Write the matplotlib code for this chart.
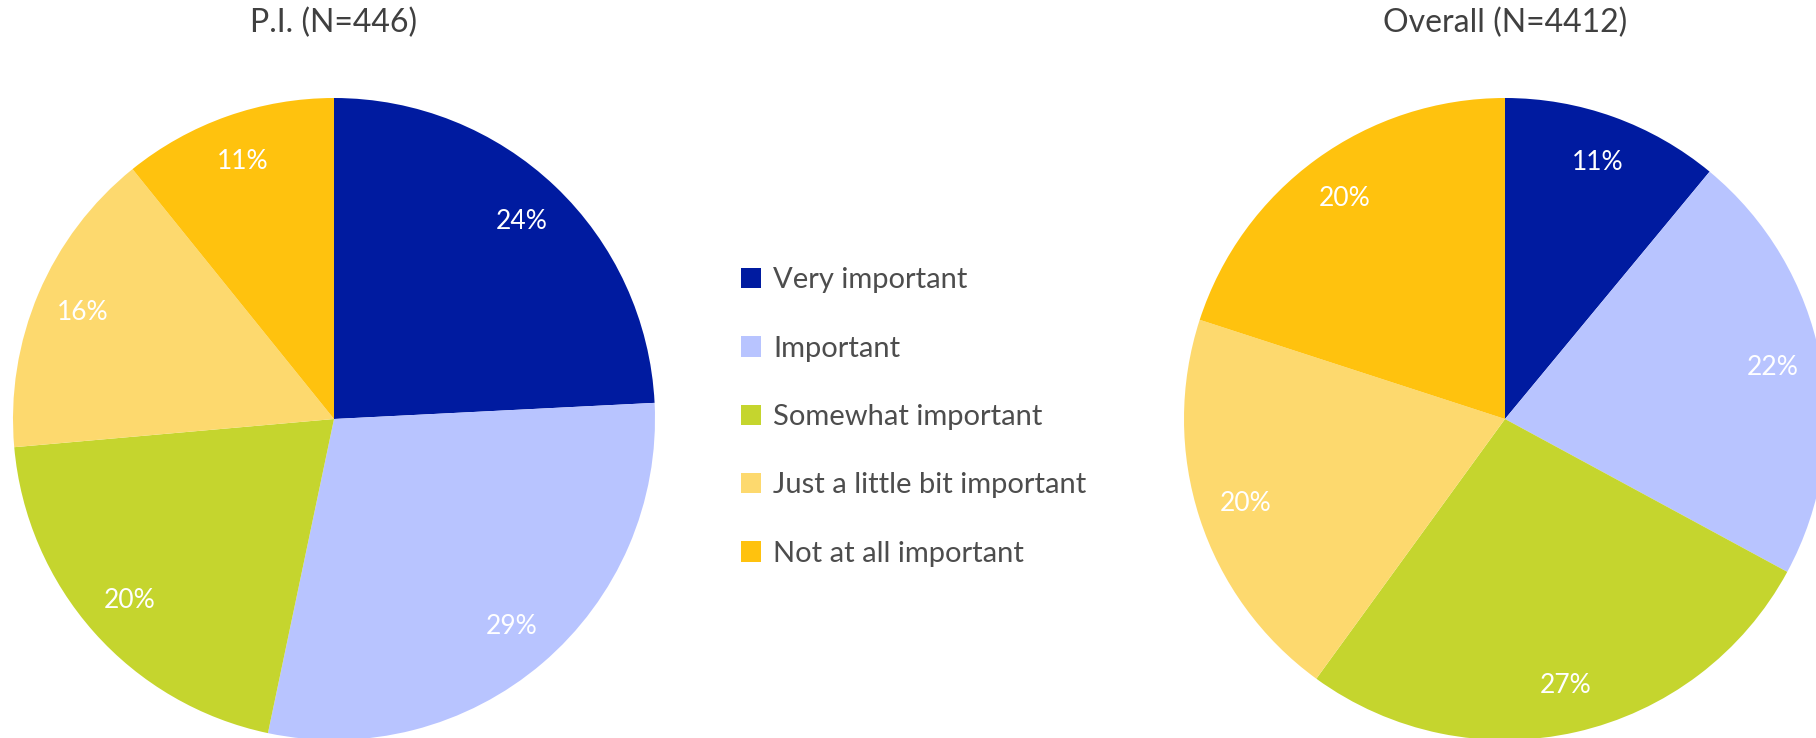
import matplotlib
matplotlib.use("Agg")
import matplotlib.pyplot as plt

categories = ["Very important", "Important", "Somewhat important",
              "Just a little bit important", "Not at all important"]
pi_values = [24.2, 29.1, 20.3, 15.6, 10.8]
overall_values = [11.0, 21.9, 27.1, 20.0, 20.0]
titles = ["P.I. (N=446)", "Overall (N=4412)"]
colors = ["#001BA0", "#B8C4FF", "#C5D52E", "#FDD96E", "#FFC20E"]

plt.rcParams['font.family'] = ['Lato', 'DejaVu Sans']

W, H = 1816, 738
fig = plt.figure(figsize=(W / 100, H / 100), dpi=100)

R = 321
cy = 419
centers = [334, 1505]
wedges_all = []
for cx, vals, title in zip(centers, [pi_values, overall_values], titles):
    ax = fig.add_axes([(cx - R) / W, (H - cy - R) / H, 2 * R / W, 2 * R / H])
    wedges, texts, autotexts = ax.pie(
        vals, colors=colors, startangle=90, counterclock=False,
        autopct=lambda p: f"{p:.0f}%", pctdistance=0.85, radius=1,
        textprops=dict(color="white", fontsize=19))
    ax.set_xlim(-1, 1)
    ax.set_ylim(-1, 1)
    ax.set_aspect('equal')
    ax.axis('off')
    for w in wedges:
        w.set_clip_on(False)
    wedges_all.append(wedges)
    fig.text(cx / W, 1 - 23 / H, title, ha='center', va='center',
             fontsize=23, color="#404040")

fig.legend(wedges_all[0], categories, loc='center left',
           bbox_to_anchor=(741 / W, (H - 417) / H), frameon=False,
           fontsize=21, labelcolor="#4D4D4D", handlelength=0.7,
           handleheight=0.7, handletextpad=0.4, labelspacing=1.45,
           borderpad=0, borderaxespad=0)

fig.savefig("out.png", dpi=100)
